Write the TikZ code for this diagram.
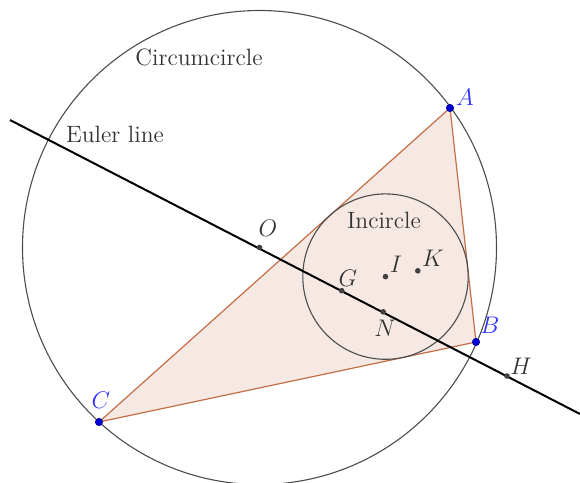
\documentclass[tikz,border=0pt]{standalone}
\usepackage{fontspec}
\definecolor{trifill}{RGB}{246,233,228}
\definecolor{triedge}{RGB}{196,110,70}
\begin{document}
\begin{tikzpicture}[x=0.5pt,y=-0.5pt,
  circ/.style={draw=black!70,line width=0.55pt},
  tri/.style={draw=triedge,fill=trifill,line width=0.6pt},
  euler/.style={draw=black,line width=1pt},
  dot/.style={circle,fill=black!75,inner sep=0pt,minimum size=2.8pt},
  vdot/.style={circle,fill=blue!85!black,draw=blue!60!black,inner sep=0pt,minimum size=3.6pt},
  lbl/.style={font=\fontsize{11.8}{14}\selectfont,text=black!80},
  vlbl/.style={font=\fontsize{11.8}{14}\selectfont,text=blue!80!white}]
\useasboundingbox (0,0) rectangle (580,483);
\coordinate (A) at (450,108);
\coordinate (B) at (476,342);
\coordinate (C) at (99,422);
\coordinate (O) at (259.5,247.5);
\coordinate (G) at (341.7,290.7);
\coordinate (H) at (507,376);
\coordinate (N) at (383.2,311.8);
\coordinate (I) at (385.5,276.6);
\coordinate (K) at (417.8,270.8);
\coordinate (E1) at (10,120);
\coordinate (E2) at (580,414);
% triangle
\path[tri] (A) -- (B) -- (C) -- cycle;
% circles
\draw[circ] (O) circle[radius=237];
\draw[circ] (I) circle[radius=82.7];
% Euler line
\draw[euler] (E1) -- (E2);
% points
\node[dot] (o) at (O) {};
\node[dot] (g) at (G) {};
\node[dot] (h) at (H) {};
\node[dot] (n) at (N) {};
\node[dot] (i) at (I) {};
\node[dot] (k) at (K) {};
\node[vdot] (a) at (A) {};
\node[vdot] (b) at (B) {};
\node[vdot] (c) at (C) {};
% labels
\node[vlbl] (la) at (465,97) {$A$};
\node[vlbl] (lb) at (490,325) {$B$};
\node[vlbl] (lc) at (101,400) {$C$};
\node[lbl] (lo) at (268,228) {$O$};
\node[lbl] (lg) at (348,278) {$G$};
\node[lbl] (li) at (396,264) {$I$};
\node[lbl] (lk) at (433,258) {$K$};
\node[lbl] (ln) at (385,328) {$N$};
\node[lbl] (lh) at (521,366) {$H$};
\node[lbl] (tc) at (199,57) {Circumcircle};
\node[lbl] (te) at (115,134) {Euler line};
\node[lbl] (ti) at (384,220) {Incircle};
\end{tikzpicture}
\end{document}
